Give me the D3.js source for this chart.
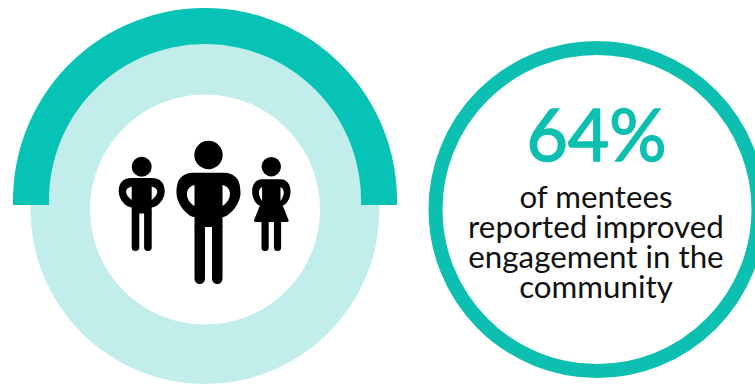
<!DOCTYPE html>
<html>
<head>
<meta charset="utf-8">
<script src="https://cdn.jsdelivr.net/npm/d3@7"></script>
<style>
  html, body { margin: 0; padding: 0; background: #fff; }
  svg { display: block; }
  text { font-family: Lato, sans-serif; text-anchor: middle; }
</style>
</head>
<body>
<script>
const headline = "64%";
const captionLines = ["of mentees", "reported improved", "engagement in the", "community"];
// Share of the full turn covered by the pale track and by the highlighted band.
const trackShare = [1];
const bandShare = [0.54];
const teal = "#07c3b5";
const ringTeal = "#0dbfb0";
const paleTeal = "#c1eeeb";

const svg = d3.select("body").append("svg").attr("width", 755).attr("height", 385);
const turn = d3.scaleLinear().domain([0, 1]).range([0, 2 * Math.PI]);
const arc = d3.arc();

// Pale track
svg.append("g").attr("transform", "translate(205,209.5)")
  .selectAll("path").data(trackShare).join("path")
  .attr("fill", paleTeal)
  .attr("d", d => arc({innerRadius: 115, outerRadius: 174.5, startAngle: 0, endAngle: turn(d)}));

// Highlighted band; its ends are cut flat by the clip
svg.append("clipPath").attr("id", "band-cut").append("rect")
  .attr("x", 0).attr("y", 0).attr("width", 420).attr("height", 205);
svg.append("g").attr("clip-path", "url(#band-cut)")
  .append("g").attr("transform", "translate(205,200)")
  .selectAll("path").data(bandShare).join("path")
  .attr("fill", teal)
  .attr("d", d => arc({innerRadius: 156, outerRadius: 192, startAngle: -turn(d) / 2, endAngle: turn(d) / 2}));

// Person pictogram: head, one outline for torso and arms with two holes, rounded legs
function person(cx, p) {
  const g = svg.append("g").attr("transform", `translate(${cx},0)`);
  g.append("circle").attr("cy", p.headY).attr("r", p.headR);
  const mid = p.top + (p.armBottom - p.top) * 0.45;
  const rise = (p.armBottom - p.top) * 0.27;
  const hole = k => `M${k * p.torso},${p.holeTop}` +
    `C${k * p.hole},${p.holeTop + 2} ${k * p.hole},${p.holeBottom - 6} ${k * p.torso},${p.holeBottom}Z`;
  const outline = `M${-p.torso},${p.top}H${p.torso}` +
    `C${p.arm - 4},${p.top} ${p.arm},${mid - rise} ${p.arm},${mid}` +
    `C${p.arm},${mid + rise} ${p.torso + 6},${p.armBottom} ${p.torso},${p.armBottom}` +
    `V${p.crotch}H${-p.torso}V${p.armBottom}` +
    `C${-p.torso - 6},${p.armBottom} ${-p.arm},${mid + rise} ${-p.arm},${mid}` +
    `C${-p.arm},${mid - rise} ${4 - p.arm},${p.top} ${-p.torso},${p.top}Z`;
  g.append("path").attr("fill-rule", "evenodd").attr("d", outline + hole(-1) + hole(1));
  [-1, 1].forEach(k => {
    const w = p.legOut - p.legIn;
    const x = k < 0 ? -p.legOut : p.legIn;
    g.append("path").attr("d", `M${x},${p.crotch - 1}h${w}V${p.foot - w / 2}a${w / 2},${w / 2} 0 0 1 ${-w},0Z`);
  });
  if (p.skirt) {
    g.append("path").attr("stroke", "#000").attr("stroke-width", 3).attr("stroke-linejoin", "round")
      .attr("d", `M${-p.torso},${p.armBottom - 2}H${p.torso}L${p.skirt},${p.hem}H${-p.skirt}Z`);
  }
}

person(208.5, {headY: 155, headR: 14.2, top: 172.7, arm: 32, torso: 14, armBottom: 217,
  holeTop: 185, holeBottom: 206, hole: 24, crotch: 227, foot: 284, legIn: 3.5, legOut: 14});
person(141.7, {headY: 166.7, headR: 10, top: 178, arm: 23, torso: 10, armBottom: 207.5,
  holeTop: 186.5, holeBottom: 200, hole: 17.5, crotch: 213.5, foot: 251, legIn: 2.4, legOut: 10});
person(271.3, {headY: 166.7, headR: 9.7, top: 179.3, arm: 19.2, torso: 9.2, armBottom: 206,
  holeTop: 187, holeBottom: 201, hole: 13.5, crotch: 222, foot: 251, legIn: 2.6, legOut: 9.8,
  skirt: 15.8, hem: 220.5});

// Outlined circle with the statistic
svg.append("circle").attr("cx", 597).attr("cy", 209.5).attr("r", 161.5)
  .attr("fill", "#fff").attr("stroke", ringTeal).attr("stroke-width", 14);
svg.append("text").attr("x", 596.5).attr("y", 161).attr("font-size", 71.5)
  .attr("fill", ringTeal).attr("stroke", ringTeal).attr("stroke-width", 1.5).text(headline);
svg.selectAll("text.caption").data(captionLines).join("text").attr("class", "caption")
  .attr("x", 596).attr("y", (d, i) => 208 + i * 30).attr("font-size", 31.3).attr("fill", "#111").text(d => d);
</script>
</body>
</html>
